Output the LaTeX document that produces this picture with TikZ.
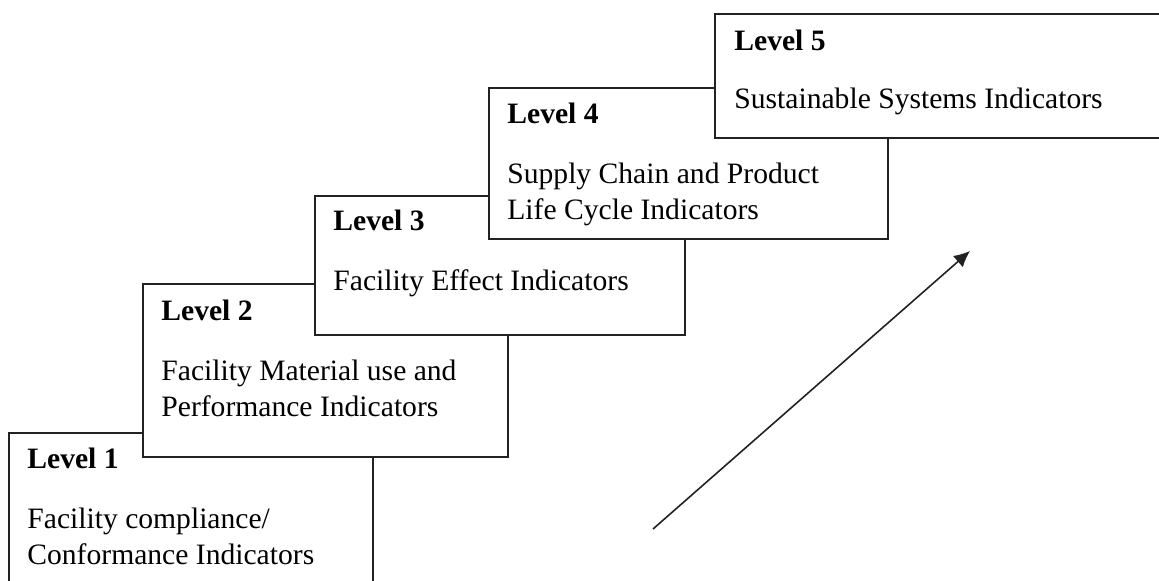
\documentclass[tikz,border=0pt]{standalone}
\usepackage{fontspec}
\setmainfont{Liberation Serif}
\usepackage{tikz}
\usetikzlibrary{arrows.meta,positioning}
\definecolor{edgeGray}{HTML}{222222}

\begin{document}
\begin{tikzpicture}[
  x=0.5pt, y=-0.5pt,
  font=\fontsize{14.8}{18}\selectfont,
  levelbox/.style={draw=edgeGray, line width=1pt, fill=white, inner sep=0pt,
                   anchor=north west},
  leveltext/.style={align=left, inner sep=0pt},
  risearr/.style={-{Latex[length=8pt, width=7.5pt]}, line width=0.8pt, color=edgeGray}
]
\useasboundingbox (0,0) rectangle (1159,581);
\clip (0,0) rectangle (1159,581);

% staircase of levels, each one laid over the one before
\node[levelbox, minimum width=182pt, minimum height=90pt] (lvl1) at (8,432) {};
\node[leveltext, below right=0pt and 9.5pt of lvl1.north west] (lvl1txt)
  {\rule{0pt}{18pt}\textbf{Level 1}\\[12pt]Facility compliance/\\Conformance Indicators};

\node[levelbox, minimum width=182.5pt, minimum height=86.5pt] (lvl2) at (142,283) {};
\node[leveltext, below right=0.5pt and 9.5pt of lvl2.north west] (lvl2txt)
  {\rule{0pt}{18pt}\textbf{Level 2}\\[12pt]Facility Material use and\\Performance Indicators};

\node[levelbox, minimum width=185pt, minimum height=69.5pt] (lvl3) at (314,195) {};
\node[leveltext, below right=-0.5pt and 9.5pt of lvl3.north west] (lvl3txt)
  {\rule{0pt}{18pt}\textbf{Level 3}\\[12pt]Facility Effect Indicators};

\node[levelbox, minimum width=199.5pt, minimum height=75.5pt] (lvl4) at (488,87) {};
\node[leveltext, below right=0pt and 9.5pt of lvl4.north west] (lvl4txt)
  {\rule{0pt}{18pt}\textbf{Level 4}\\[12pt]Supply Chain and Product\\Life Cycle Indicators};

% last level runs on past the right edge
\node[levelbox, minimum width=300pt, minimum height=62pt] (lvl5) at (714,13) {};
\node[leveltext, below right=0.5pt and 10pt of lvl5.north west] (lvl5txt)
  {\rule{0pt}{18pt}\textbf{Level 5}\\[11pt]Sustainable Systems Indicators};

% rising arrow
\coordinate (riseFrom) at (653,529);
\coordinate (riseTo) at (970,251);
\draw[risearr] (riseFrom) -- (riseTo);
\end{tikzpicture}
\end{document}
